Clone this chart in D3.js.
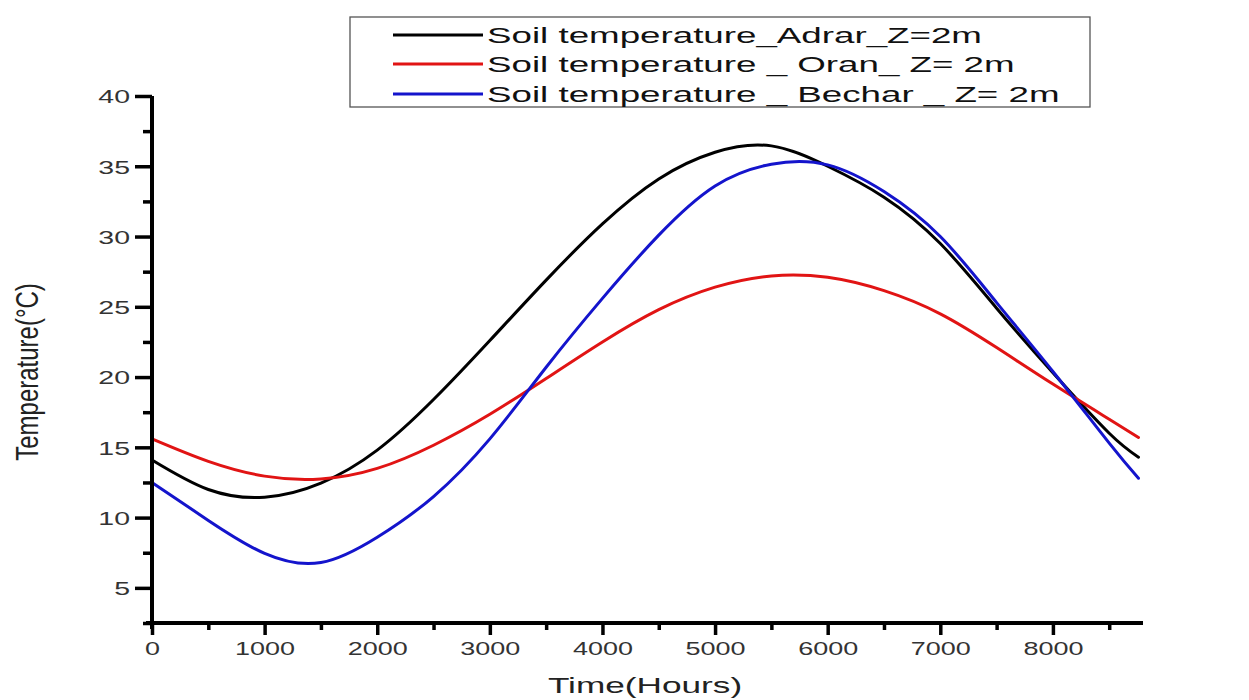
<!DOCTYPE html>
<html>
<head>
<meta charset="utf-8">
<script src="https://cdn.jsdelivr.net/npm/d3@7"></script>
<style>
  body { margin: 0; background: #fff; }
  svg { display: block; }
  .axis path, .axis line { stroke: #000; }
  .axis text { font-family: "Liberation Sans", Arial, sans-serif; fill: #333; }
</style>
</head>
<body>
<div id="chart"></div>
<script>
// Data (hours vs soil temperature at 2 m depth)
var hours = [0, 500, 1000, 1500, 2000, 2500, 3000, 3500, 4000, 4500, 5000, 5500, 6000, 6500, 7000, 7500, 8000, 8500, 8760];
var adrar = [14.1, 12.0, 11.45, 12.45, 14.8, 18.4, 22.6, 26.9, 30.9, 34.1, 36.0, 36.45, 35.0, 32.8, 29.5, 24.9, 20.3, 16.0, 14.3];
var oran = [15.6, 14.0, 12.95, 12.75, 13.5, 15.15, 17.35, 19.9, 22.5, 24.8, 26.4, 27.2, 27.1, 26.15, 24.5, 22.1, 19.5, 17.0, 15.7];
var bechar = [12.5, 9.8, 7.45, 6.8, 8.6, 11.5, 15.6, 20.7, 25.6, 30.1, 33.6, 35.15, 35.1, 33.2, 30.0, 25.3, 20.4, 15.3, 12.8];

var seriesNames = ["Soil temperature_Adrar_Z=2m", "Soil temperature _ Oran_ Z= 2m", "Soil temperature _ Bechar _ Z= 2m"];
var seriesColors = ["#000000", "#e11414", "#1414cc"];

var xMajor = [0, 1000, 2000, 3000, 4000, 5000, 6000, 7000, 8000];
var xMinor = [500, 1500, 2500, 3500, 4500, 5500, 6500, 7500, 8500];
var yMajor = [5, 10, 15, 20, 25, 30, 35, 40];
var yMinor = [2.5, 7.5, 12.5, 17.5, 22.5, 27.5, 32.5, 37.5];

var width = 1249, height = 700;
var stretch = 1.5;   // the source figure is widened horizontally

var svg = d3.select("#chart").append("svg")
    .attr("width", width)
    .attr("height", height);

var x = d3.scaleLinear().domain([0, 8800]).range([152, 1143]);
var y = d3.scaleLinear().domain([2.5, 40]).range([623, 96]);

// curves
var line = d3.line()
    .x(function (d) { return x(d[0]); })
    .y(function (d) { return y(d[1]); })
    .curve(d3.curveNatural);

[adrar, oran, bechar].forEach(function (vals, i) {
    var pts = hours.map(function (h, j) { return [h, vals[j]]; });
    svg.append("path")
        .datum(pts)
        .attr("fill", "none")
        .attr("stroke", seriesColors[i])
        .attr("stroke-width", 3)
        .attr("stroke-linecap", "round")
        .attr("d", line);
});

// x axis
var xAxisG = svg.append("g")
    .attr("class", "axis")
    .attr("transform", "translate(0," + y(2.5) + ")");

xAxisG.append("g")
    .call(d3.axisBottom(x).tickValues(xMinor).tickSize(7).tickFormat(""))
    .call(function (g) { g.select(".domain").remove(); })
    .selectAll("line").attr("stroke-width", 3.5);

xAxisG.append("g")
    .call(d3.axisBottom(x).tickValues(xMajor).tickSize(12).tickSizeOuter(0).tickFormat(d3.format("d")))
    .call(function (g) {
        g.select(".domain").attr("stroke-width", 4).attr("d", "M" + (x(0) - 6) + ",0H" + x(8800));
        g.selectAll("line").attr("stroke-width", 3.5);
        g.selectAll("text")
            .attr("font-size", 18)
            .attr("y", 0)
            .attr("dy", 0)
            .attr("transform", "translate(0,32) scale(" + stretch + ",1)");
    });

// y axis
var yAxisG = svg.append("g")
    .attr("class", "axis")
    .attr("transform", "translate(" + x(0) + ",0)");

yAxisG.append("g")
    .call(d3.axisLeft(y).tickValues(yMinor).tickSize(9).tickFormat(""))
    .call(function (g) { g.select(".domain").remove(); })
    .selectAll("line").attr("stroke-width", 3.5);

yAxisG.append("g")
    .call(d3.axisLeft(y).tickValues(yMajor).tickSize(17).tickSizeOuter(0))
    .call(function (g) {
        g.select(".domain").attr("stroke-width", 4).attr("d", "M0," + (y(2.5) + 6) + "V" + y(40));
        g.selectAll("line").attr("stroke-width", 3.5);
        g.selectAll("text")
            .attr("font-size", 19)
            .attr("x", 0)
            .attr("dy", "0.36em")
            .attr("transform", "translate(-22,0) scale(" + stretch + ",1)");
    });

// axis titles
svg.append("text")
    .attr("transform", "translate(645,693) scale(1.6,1)")
    .attr("text-anchor", "middle")
    .attr("font-family", "Liberation Sans, Arial, sans-serif")
    .attr("font-size", 22)
    .attr("fill", "#222")
    .text("Time(Hours)");

svg.append("text")
    .attr("transform", "translate(38,372) scale(1.3,1) rotate(-90)")
    .attr("text-anchor", "middle")
    .attr("font-family", "Liberation Sans, Arial, sans-serif")
    .attr("font-size", 24)
    .attr("fill", "#222")
    .text("Temperature(\u00B0C)");

// legend
var legend = svg.append("g");
legend.append("rect")
    .attr("x", 350).attr("y", 17)
    .attr("width", 740).attr("height", 90)
    .attr("fill", "#fff")
    .attr("stroke", "#555")
    .attr("stroke-width", 1.3);

var rowY = [35, 64, 94];
seriesNames.forEach(function (name, i) {
    legend.append("line")
        .attr("x1", 393).attr("x2", 483)
        .attr("y1", rowY[i]).attr("y2", rowY[i])
        .attr("stroke", seriesColors[i])
        .attr("stroke-width", 3);
    legend.append("text")
        .attr("transform", "translate(487," + (rowY[i] + 8) + ") scale(1.67,1)")
        .attr("font-family", "Liberation Sans, Arial, sans-serif")
        .attr("font-size", 22)
        .attr("fill", "#111")
        .text(name);
});
</script>
</body>
</html>
